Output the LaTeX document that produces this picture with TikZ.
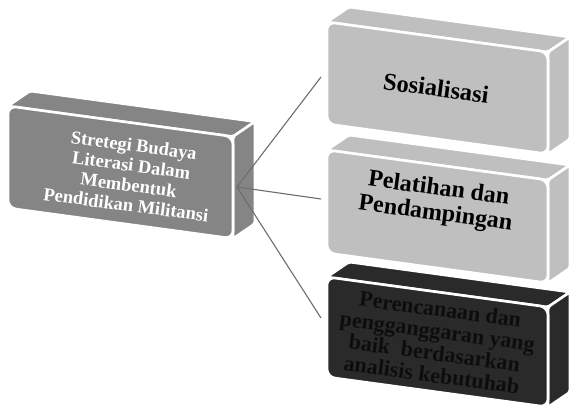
\documentclass[tikz,border=0pt]{standalone}
\usepackage{fontspec}
\setmainfont{Liberation Serif}
\definecolor{midgray}{HTML}{858585}
\definecolor{lightgray2}{HTML}{BFBFBF}
\definecolor{darkbox}{HTML}{2A2A2A}
\definecolor{darktext}{HTML}{0D0D0D}
\definecolor{linkgray}{HTML}{6E6E6E}
\tikzset{
  face/.style={fill=#1, draw=white, line width=2.6pt},
  boxtext/.style={align=center, font=\bfseries, rotate=-7.6, inner sep=0pt},
  link/.style={draw=linkgray, line width=1.1pt}
}
% #1 x, #2 y of front top-left, #3 width, #4 height, #5 colour
\newcommand{\cubebox}[5]{%
  \path[face=#5, rounded corners=2pt] (#1,#2) -- ++(#3,{0.136*#3}) -- ++(22,-15) -- ++(-#3,{-0.136*#3}) -- cycle;
  \path[face=#5, rounded corners=2pt] ({#1+#3},{#2+0.136*#3}) -- ++(22,-15) -- ++(0,#4) -- ++(-22,15) -- cycle;
  \path[face=#5, rounded corners=8pt] (#1,#2) -- ++(#3,{0.136*#3}) -- ++(0,#4) -- ++(-#3,{-0.136*#3}) -- cycle;
}
\begin{document}
\begin{tikzpicture}[x=1pt,y=-1pt]
\useasboundingbox (0,0) rectangle (569,411);
\clip (0,0) rectangle (569,411);
\fill[white] (0,0) rectangle (569,411);

% boxes
\cubebox{8}{106}{225}{102}{midgray}
\cubebox{327}{277}{221}{100}{darkbox}
\cubebox{327}{150}{221}{103}{lightgray2}
\cubebox{327}{22}{221}{102}{lightgray2}

% texts
\node[boxtext, text=white, font=\bfseries\fontsize{18.5}{20}\selectfont] (main) at (130,175)
  {Stretegi Budaya\\Literasi Dalam\\Membentuk\\Pendidikan Militansi};
\node[boxtext, text=black, font=\bfseries\fontsize{24.5}{26}\selectfont] (sos) at (436,88) {Sosialisasi};
\node[boxtext, text=black, font=\bfseries\fontsize{24}{25}\selectfont] (pel) at (437,202)
  {Pelatihan dan\\Pendampingan};
\node[boxtext, text=darktext, font=\bfseries\fontsize{22}{22}\selectfont] (per) at (436,342)
  {Perencanaan dan\\pengganggaran yang\\baik\ \ berdasarkan\\analisis kebutuhab};

% connectors
\coordinate (hub) at (237,187);
\coordinate (endsos) at (321,77);
\coordinate (endpel) at (321,199);
\coordinate (endper) at (321,318);
\draw[link] (hub) -- (endsos);
\draw[link] (hub) -- (endpel);
\draw[link] (hub) -- (endper);
\end{tikzpicture}
\end{document}
